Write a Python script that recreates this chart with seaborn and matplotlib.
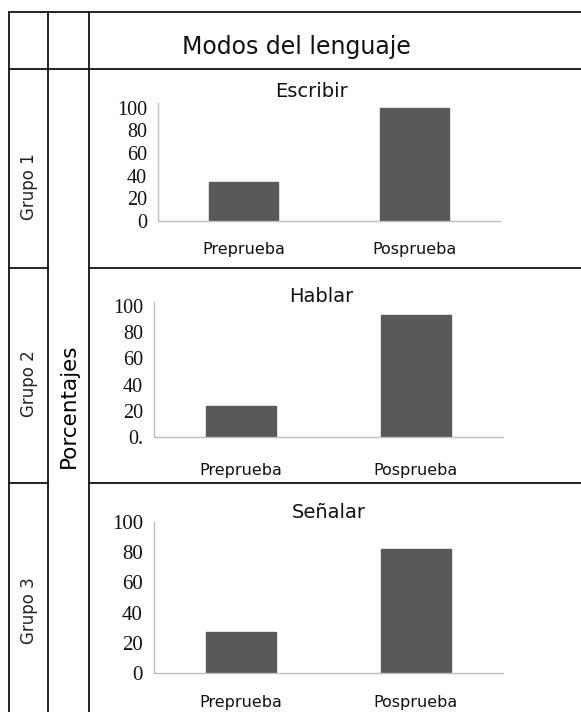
import matplotlib
matplotlib.use("Agg")
import matplotlib.pyplot as plt
from matplotlib.lines import Line2D
import seaborn as sns

sns.set_theme(style="white")

# Data
categories = ["Preprueba", "Posprueba"]
panel_titles = ["Escribir", "Hablar", "Señalar"]
group_labels = ["Grupo 1", "Grupo 2", "Grupo 3"]
escribir = [34, 100]
hablar = [24, 93]
senalar = [27, 82]
y_ticks = [0, 20, 40, 60, 80, 100]
y_tick_labels_g2 = ["0.", "20", "40", "60", "80", "100"]

W, H = 581, 712
fig = plt.figure(figsize=(W / 100, H / 100), dpi=100)
fig.patch.set_facecolor("white")


def fx(x):
    return x / W


def fy(y):
    return 1 - y / H


def hline(y, x0, x1):
    fig.add_artist(Line2D([fx(x0), fx(x1)], [fy(y), fy(y)], transform=fig.transFigure,
                          color="black", lw=1.2))


def vline(x, y0, y1):
    fig.add_artist(Line2D([fx(x), fx(x)], [fy(y0), fy(y1)], transform=fig.transFigure,
                          color="black", lw=1.2))


# table grid
for x in (9, 48, 89):
    vline(x, 12, 712)
hline(12, 9, 581)
hline(69, 9, 581)
for y in (268, 483):
    hline(y, 9, 48)
    hline(y, 89, 581)

fig.text(fx(296), fy(54), "Modos del lenguaje", ha="center", va="baseline",
         fontsize=17, family="DejaVu Sans", color="#111111")

fig.text(fx(69), fy(406), "Porcentajes", rotation=90, ha="center", va="center",
         fontsize=15.5, family="DejaVu Sans", color="black")

group_centers = [187, 384, 611]
for lab, yc in zip(group_labels, group_centers):
    fig.text(fx(29), fy(yc), lab, rotation=90, ha="center", va="center",
             fontsize=12, family="DejaVu Sans", color="#222222")

# panels: (left, right, top, bottom) in pixels
rects = [(158, 500, 103, 221), (154, 503, 302, 437), (154, 503, 522, 673)]
ylims = [104, 103, 100]
title_pads = [4, 0, 3]
title_x = [0.45, 0.48, 0.5]
xlab_pads = [15, 19, 16]
series = [escribir, hablar, senalar]

for i, (vals, (l, r, t, b)) in enumerate(zip(series, rects)):
    ax = fig.add_axes([fx(l), fy(b), (r - l) / W, (b - t) / H])
    sns.barplot(x=categories, y=vals, ax=ax, color="#595959", saturation=1,
                width=0.4, edgecolor="#595959")
    ax.set_xlim(-0.5, 1.5)
    ax.set_ylim(0, ylims[i])
    ax.set_yticks(y_ticks)
    if i == 1:
        ax.set_yticklabels(y_tick_labels_g2)
    else:
        ax.set_yticklabels([str(v) for v in y_ticks])
    for lbl in ax.get_yticklabels():
        lbl.set_family("Liberation Serif")
        lbl.set_fontsize(15 if i == 2 else 14.5)
        lbl.set_color("#111111")
    for lbl in ax.get_xticklabels():
        lbl.set_family("DejaVu Sans")
        lbl.set_fontsize(11.5)
        lbl.set_color("#111111")
    ax.tick_params(axis="both", length=0)
    ax.tick_params(axis="y", pad=8)
    ax.tick_params(axis="x", pad=xlab_pads[i])
    for s in ("top", "right"):
        ax.spines[s].set_visible(False)
    for s in ("left", "bottom"):
        ax.spines[s].set_color("#bfbfbf")
        ax.spines[s].set_linewidth(1.0)
    ax.set_facecolor("none")
    ax.set_xlabel("")
    ax.set_ylabel("")
    ax.set_title(panel_titles[i], fontsize=14, family="DejaVu Sans",
                 color="#111111", pad=title_pads[i], x=title_x[i])

fig.savefig("out.png", dpi=100)
